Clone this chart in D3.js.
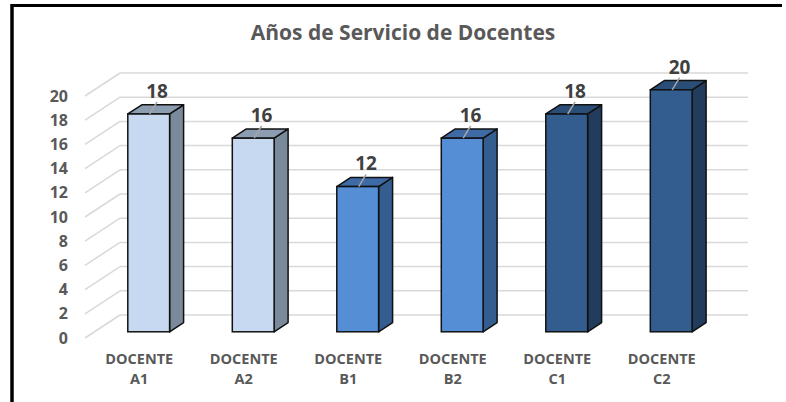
<!DOCTYPE html>
<html>
<head>
<meta charset="utf-8">
<script src="https://cdn.jsdelivr.net/npm/d3@7"></script>
<style>
  html, body { margin: 0; padding: 0; background: #fff; }
  svg { display: block; }
  text { font-family: "Open Sans", "DejaVu Sans", sans-serif; font-weight: 700; }
</style>
</head>
<body>
<div id="chart"></div>
<script>
const categories = ["DOCENTE A1", "DOCENTE A2", "DOCENTE B1", "DOCENTE B2", "DOCENTE C1", "DOCENTE C2"];
const years = [18, 16, 12, 16, 18, 20];
const groups = ["A", "A", "B", "B", "C", "C"];
const yTicks = [0, 2, 4, 6, 8, 10, 12, 14, 16, 18, 20];

const palette = {
  A: { front: "#c6d9f1", side: "#7b8a9b", top: "#8c9db1" },
  B: { front: "#558ed5", side: "#355e90", top: "#3e6aa5" },
  C: { front: "#335d8f", side: "#223c5d", top: "#2b4e79" }
};

const width = 786, height = 402;
// depth of the 3d floor, from front plane to back wall
const DX = 35, DY = -23;
const t0 = 0.27, t1 = 0.4; // bar front position and bar depth (fraction of floor depth)

const svg = d3.select("#chart").append("svg")
  .attr("width", width)
  .attr("height", height);

// frame
svg.append("line").attr("x1", 12).attr("x2", 782).attr("y1", 5.5).attr("y2", 5.5)
  .attr("stroke", "#000").attr("stroke-width", 3);
svg.append("line").attr("x1", 12).attr("x2", 12).attr("y1", 4).attr("y2", height)
  .attr("stroke", "#000").attr("stroke-width", 3.5);

svg.append("text")
  .attr("x", 403)
  .attr("y", 40)
  .attr("text-anchor", "middle")
  .style("font-size", "21px")
  .style("fill", "#595959")
  .text("Años de Servicio de Docentes");

const x = d3.scaleBand()
  .domain(categories)
  .range([87, 714])
  .paddingInner(0.6)
  .paddingOuter(0.3);

const y = d3.scaleLinear()
  .domain([0, 20])
  .range([338, 96]);

// gridlines: back wall + left side diagonals
const grid = svg.append("g");
yTicks.forEach(v => {
  grid.append("line")
    .attr("x1", 85).attr("y1", y(v))
    .attr("x2", 85 + DX).attr("y2", y(v) + DY)
    .attr("stroke", "#d9d9d9").attr("stroke-width", 1.5);
  grid.append("line")
    .attr("x1", 85 + DX).attr("y1", y(v) + DY)
    .attr("x2", 713 + DX).attr("y2", y(v) + DY)
    .attr("stroke", "#d9d9d9").attr("stroke-width", 1.5);
});

// y axis labels
const yAxis = svg.append("g")
  .attr("transform", "translate(85,0)")
  .call(d3.axisLeft(y).tickValues(yTicks).tickSize(0).tickPadding(17));
yAxis.select(".domain").remove();
yAxis.selectAll("text")
  .style("font-family", "'Open Sans', sans-serif")
  .style("font-weight", 700)
  .style("font-size", "16px")
  .style("fill", "#595959");

// x axis labels, two lines each
const xAxis = svg.append("g")
  .attr("transform", "translate(0,348)")
  .call(d3.axisBottom(x).tickSize(0).tickPadding(0));
xAxis.select(".domain").remove();
xAxis.selectAll("text")
  .style("font-family", "'Open Sans', sans-serif")
  .style("font-weight", 700)
  .style("font-size", "14.5px")
  .style("fill", "#595959")
  .each(function(d) {
    const parts = d.split(" ");
    const t = d3.select(this).text(null).attr("y", 0).attr("dy", null);
    t.append("tspan").attr("x", 0).attr("y", 16).text(parts[0]);
    t.append("tspan").attr("x", 0).attr("y", 36).text(parts[1]);
  });

// bars
const bw = x.bandwidth();
const fdx = t0 * DX, fdy = t0 * DY;
const bdx = t1 * DX, bdy = t1 * DY;

const bars = svg.append("g").selectAll("g")
  .data(categories.map((c, i) => ({ c, v: years[i], g: groups[i] })))
  .join("g");

bars.each(function(d) {
  const g = d3.select(this);
  const col = palette[d.g];
  const x0 = x(d.c) + fdx, x1 = x0 + bw;
  const yt = y(d.v) + fdy, yb = y(0) + fdy;
  // side face
  g.append("path")
    .attr("d", `M${x1},${yt} L${x1 + bdx},${yt + bdy} L${x1 + bdx},${yb + bdy} L${x1},${yb} Z`)
    .attr("fill", col.side).attr("stroke", "#111").attr("stroke-width", 1.5)
    .attr("stroke-linejoin", "round");
  // top face
  g.append("path")
    .attr("d", `M${x0},${yt} L${x0 + bdx},${yt + bdy} L${x1 + bdx},${yt + bdy} L${x1},${yt} Z`)
    .attr("fill", col.top).attr("stroke", "#111").attr("stroke-width", 1.5)
    .attr("stroke-linejoin", "round");
  // front face
  g.append("rect")
    .attr("x", x0).attr("y", yt)
    .attr("width", bw).attr("height", yb - yt)
    .attr("fill", col.front).attr("stroke", "#111").attr("stroke-width", 1.5);

  // value label with leader line
  const cx = x0 + bw / 2;
  const lx = cx + bdx * 0.6;
  const backTop = yt + bdy;
  g.append("line")
    .attr("x1", lx).attr("y1", backTop - 3)
    .attr("x2", cx + 1).attr("y2", yt)
    .attr("stroke", "#a6a6a6").attr("stroke-width", 1.5);
  g.append("text")
    .attr("x", lx)
    .attr("y", backTop - 7)
    .attr("text-anchor", "middle")
    .style("font-size", "19px")
    .style("fill", "#404040")
    .text(d.v);
});
</script>
</body>
</html>
